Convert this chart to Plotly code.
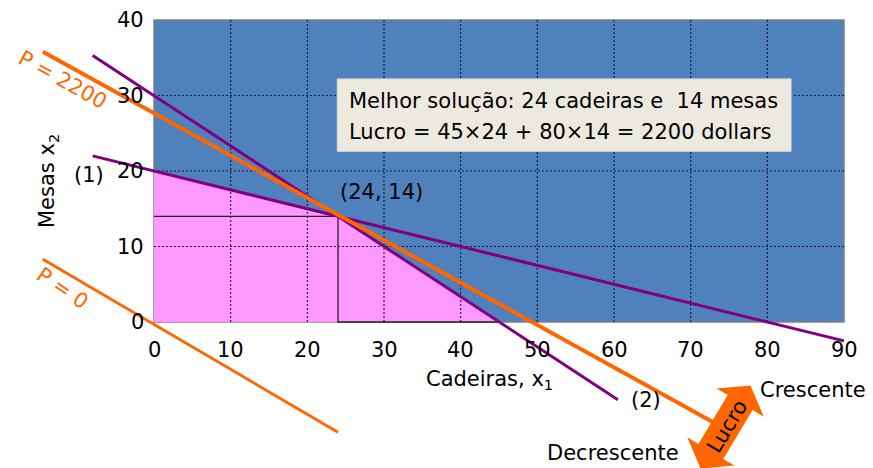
import math
import plotly.graph_objects as go

# ---- data ----
x_ticks = [0, 10, 20, 30, 40, 50, 60, 70, 80, 90]
y_ticks = [0, 10, 20, 30, 40]
feasible_x = [0, 0, 24, 45, 0]
feasible_y = [0, 20, 14, 0, 0]
guide_x = [0, 24, 24, 45]
guide_y = [14, 14, 0, 0]
c1_x = [-8, 90]
c1_y = [22, -2.5]
c2_x = [-8, 60.5]
c2_y = [35.3, -10.3]
p2200_x = [-14.5, 73]
p2200_y = [35.8, -13.3]
p0_x = [-14.5, 24]
p0_y = [8.3, -14.6]
opt_x, opt_y = 24, 14

W, H = 873, 468
FONT = "DejaVu Sans"
BLUE = "#4F81BD"
PINK = "#FF99FF"
PURPLE = "#800080"
ORANGE = "#FF6600"

# pixel mapping of the figure (margins are zero)
X0PX, X90PX = 154, 844
Y0PX, Y40PX = 322, 20
sx = (X90PX - X0PX) / 90.0
sy = (Y0PX - Y40PX) / 40.0
xr = [(0 - X0PX) / sx, (W - X0PX) / sx]
yr = [-(H - Y0PX) / sy, Y0PX / sy]

fig = go.Figure()

# feasible region
fig.add_trace(go.Scatter(x=feasible_x, y=feasible_y, mode="lines", fill="toself",
                         fillcolor=PINK, line=dict(width=0), hoverinfo="skip"))

# grid lines (on top of the pink region)
gx, gy = [], []
for v in x_ticks[1:-1]:
    gx += [v, v, None]
    gy += [y_ticks[0], y_ticks[-1], None]
for v in y_ticks[1:-1]:
    gx += [x_ticks[0], x_ticks[-1], None]
    gy += [v, v, None]
fig.add_trace(go.Scatter(x=gx, y=gy, mode="lines",
                         line=dict(color="#10182a", width=1.1, dash="2px,2px"), hoverinfo="skip"))

# guide lines
fig.add_trace(go.Scatter(x=guide_x, y=guide_y, mode="lines",
                         line=dict(color="#222222", width=1.3), hoverinfo="skip"))

# constraints
fig.add_trace(go.Scatter(x=c1_x, y=c1_y, mode="lines", line=dict(color=PURPLE, width=3)))
fig.add_trace(go.Scatter(x=c2_x, y=c2_y, mode="lines", line=dict(color=PURPLE, width=3)))
# iso-profit lines
fig.add_trace(go.Scatter(x=p2200_x, y=p2200_y, mode="lines", line=dict(color=ORANGE, width=4)))
fig.add_trace(go.Scatter(x=p0_x, y=p0_y, mode="lines", line=dict(color=ORANGE, width=2.8)))

shapes = [dict(type="rect", xref="x", yref="y", x0=x_ticks[0], x1=x_ticks[-1],
               y0=y_ticks[0], y1=y_ticks[-1], fillcolor=BLUE,
               line=dict(color="#808080", width=1.5), layer="below")]

# solution box
shapes.append(dict(type="rect", xref="x", yref="y", x0=23.9, x1=83.1, y0=22.6, y1=32.2,
                   fillcolor="#ECE9DF", line=dict(color="#D8D6CC", width=1), layer="above"))

# double arrow "Lucro" (pixel geometry -> paper)
cx, cy = 725.5, 427
ang = math.radians(59)
ux, uy = math.cos(ang), -math.sin(ang)
nx, ny = -uy, ux
L, hl, sw, hw = 97 / 2, 20, 14.5, 27.5
pts_local = [(L, 0), (L - hl, hw), (L - hl, sw), (-(L - hl), sw), (-(L - hl), hw),
             (-L, 0), (-(L - hl), -hw), (-(L - hl), -sw), (L - hl, -sw), (L - hl, -hw)]
path = ""
for i, (a, b) in enumerate(pts_local):
    px = cx + a * ux + b * nx
    py = cy + a * uy + b * ny
    path += ("M" if i == 0 else "L") + f"{px / W:.5f},{1 - py / H:.5f} "
path += "Z"
shapes.append(dict(type="path", xref="paper", yref="paper", path=path,
                   fillcolor=ORANGE, line=dict(width=0), layer="above"))

ann = []
tf = dict(family=FONT, size=21, color="black")
for v in x_ticks:
    ann.append(dict(x=v, y=0, xref="x", yref="y", text=str(v), showarrow=False,
                    font=tf, yanchor="middle", xanchor="center", yshift=-28))
for v in y_ticks:
    ann.append(dict(x=0, y=v, xref="x", yref="y", text=str(v), showarrow=False,
                    font=tf, yanchor="middle", xanchor="right", xshift=-8))

ann += [
    dict(x=43.8, y=-7.7, xref="x", yref="y", text="Cadeiras, x<sub>1</sub>", showarrow=False,
         font=tf, xanchor="center", yanchor="middle"),
    dict(x=-13.8, y=18.7, xref="x", yref="y", text="Mesas x<sub>2</sub>", showarrow=False,
         font=tf, textangle=-90, xanchor="center", yanchor="middle"),
    dict(x=25.2, y=29.3, xref="x", yref="y", text="Melhor solução: 24 cadeiras e  14 mesas",
         showarrow=False, font=tf, xanchor="left", yanchor="middle"),
    dict(x=25.2, y=25.2, xref="x", yref="y", text="Lucro = 45×24 + 80×14 = 2200 dollars",
         showarrow=False, font=tf, xanchor="left", yanchor="middle"),
    dict(x=opt_x, y=opt_y, xref="x", yref="y", text=f"({opt_x}, {opt_y})", showarrow=False,
         font=tf, xanchor="left", yanchor="middle", xshift=0, yshift=24),
    dict(x=-8.5, y=19.5, xref="x", yref="y", text="(1)", showarrow=False, font=tf,
         xanchor="center", yanchor="middle"),
    dict(x=64.2, y=-10.3, xref="x", yref="y", text="(2)", showarrow=False, font=tf,
         xanchor="center", yanchor="middle"),
    dict(x=-11.9, y=32.05, xref="x", yref="y", text="P = 2200", showarrow=False,
         font=dict(family=FONT, size=21, color=ORANGE), textangle=29,
         xanchor="center", yanchor="middle"),
    dict(x=-12.0, y=4.5, xref="x", yref="y", text="P = 0", showarrow=False,
         font=dict(family=FONT, size=21, color=ORANGE), textangle=34,
         xanchor="center", yanchor="middle"),
    dict(x=727 / W, y=1 - 427 / H, xref="paper", yref="paper", text="Lucro", showarrow=False,
         font=dict(family=FONT, size=21, color="black"), textangle=-59,
         xanchor="center", yanchor="middle"),
    dict(x=758 / W, y=1 - 390 / H, xref="paper", yref="paper", text="Crescente", showarrow=False,
         font=tf, xanchor="left", yanchor="middle"),
    dict(x=613 / W, y=1 - 453 / H, xref="paper", yref="paper", text="Decrescente", showarrow=False,
         font=tf, xanchor="center", yanchor="middle"),
]

fig.update_layout(
    width=W, height=H, autosize=False,
    margin=dict(l=0, r=0, t=0, b=0),
    paper_bgcolor="white", plot_bgcolor="white",
    showlegend=False,
    xaxis=dict(range=xr, visible=False, fixedrange=True),
    yaxis=dict(range=yr, visible=False, fixedrange=True),
    shapes=shapes, annotations=ann,
    font=dict(family=FONT),
)

fig.write_html("out.html", config={"displayModeBar": False},
               post_script="document.body.style.margin='0';document.body.style.overflow='hidden';")
